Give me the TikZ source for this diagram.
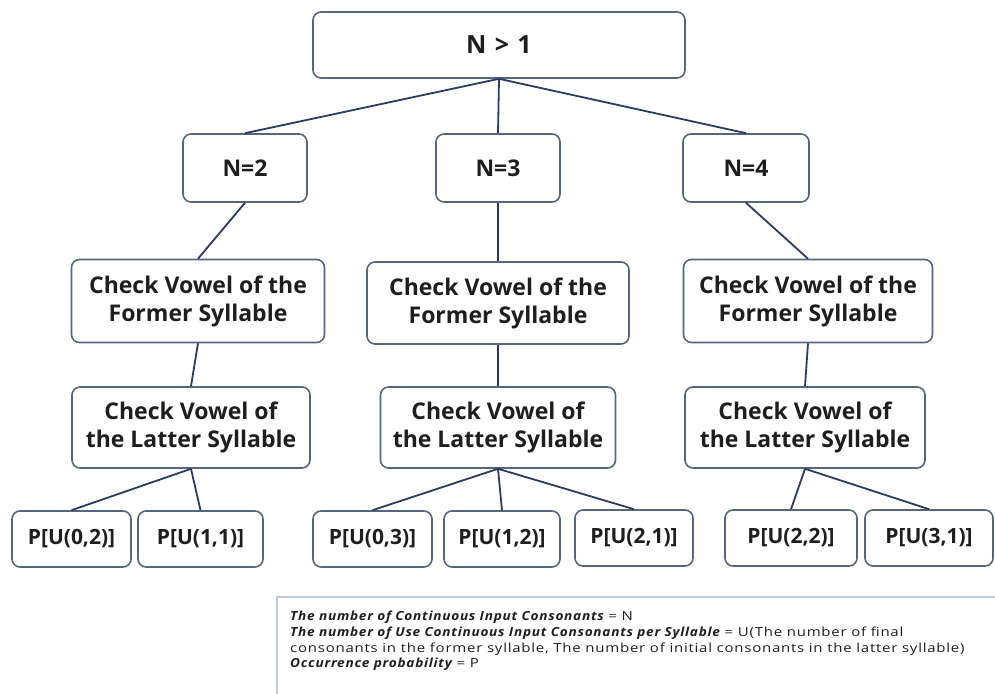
\documentclass[tikz,border=0pt]{standalone}
\usepackage{fontspec}
\setmainfont{Open Sans}
\newfontfamily\legfont[FakeStretch=1.2,LetterSpace=6]{Open Sans}
\newfontfamily\legitfont[FakeStretch=1.09,LetterSpace=6]{Open Sans}
\newcommand{\legit}[1]{{\legitfont\bfseries\itshape #1}}
\begin{document}
\begin{tikzpicture}[x=1pt,y=-1pt,
  box/.style={draw=boxc, line width=1.6pt, rounded corners=8pt, fill=white, align=center, inner sep=0pt, font=\fontsize{23}{28}\selectfont\bfseries, text=txt},
  conn/.style={draw=linec, line width=1.8pt},
  leaf/.style={box, minimum height=56pt, font=\fontsize{21}{26}\selectfont\bfseries},
  legtext/.style={anchor=west, inner sep=0pt, text=txt, font=\legfont\fontsize{12.5}{14}\selectfont}]
\definecolor{boxc}{HTML}{55667F}
\definecolor{linec}{HTML}{2C3B63}
\definecolor{txt}{HTML}{1E1E1E}
\definecolor{legb}{HTML}{B9CBDB}
\useasboundingbox (0,0) rectangle (995,693);
\fill[white] (0,0) rectangle (995,693);
% legend
\draw[draw=legb, line width=1.2pt, fill=white] (277,597) rectangle (1005,700);
\node[legtext] (lg1) at (290,617) {\legit{The number of Continuous Input Consonants} = N};
\node[legtext] (lg2) at (290,633) {\legit{The number of Use Continuous Input Consonants per Syllable} = U(The number of final};
\node[legtext] (lg3) at (290,649) {consonants in the former syllable, The number of initial consonants in the latter syllable)};
\node[legtext] (lg4) at (290,664) {\legit{Occurrence probability} = P};
% nodes
\node[box, minimum width=372pt, minimum height=66pt, font=\fontsize{25}{28}\selectfont\bfseries] (top) at (499,45) {N\,\,>\,\,1};
\node[box, minimum width=124pt, minimum height=68pt] (n2) at (245,168) {N=2};
\node[box, minimum width=124pt, minimum height=68pt] (n3) at (498,168) {N=3};
\node[box, minimum width=126pt, minimum height=68pt] (n4) at (746,168) {N=4};
\node[box, minimum width=253pt, minimum height=83pt] (f2) at (198,301) {Check Vowel of the\\Former Syllable};
\node[box, minimum width=262pt, minimum height=82pt] (f3) at (498,303) {Check Vowel of the\\Former Syllable};
\node[box, minimum width=249pt, minimum height=83pt] (f4) at (808,301) {Check Vowel of the\\Former Syllable};
\node[box, minimum width=238pt, minimum height=81pt] (l2) at (191,427.5) {Check Vowel of\\the Latter Syllable};
\node[box, minimum width=235pt, minimum height=81pt] (l3) at (498,427.5) {Check Vowel of\\the Latter Syllable};
\node[box, minimum width=240pt, minimum height=81pt] (l4) at (805,427.5) {Check Vowel of\\the Latter Syllable};
\node[leaf, minimum width=119pt] (a1) at (71.5,539) {P[U(0,2)]};
\node[leaf, minimum width=125pt] (a2) at (200.5,539) {P[U(1,1)]};
\node[leaf, minimum width=119pt] (b1) at (372.5,539) {P[U(0,3)]};
\node[leaf, minimum width=116pt] (b2) at (502,539) {P[U(1,2)]};
\node[leaf, minimum width=118pt] (b3) at (634,538) {P[U(2,1)]};
\node[leaf, minimum width=132pt] (c1) at (791,538) {P[U(2,2)]};
\node[leaf, minimum width=128pt] (c2) at (929,538) {P[U(3,1)]};
% connectors
\draw[conn] (top.south) -- (n2.north);
\draw[conn] (top.south) -- (n3.north);
\draw[conn] (top.south) -- (n4.north);
\draw[conn] (n2.south) -- (f2.north);
\draw[conn] (n3.south) -- (f3.north);
\draw[conn] (n4.south) -- (f4.north);
\draw[conn] (f2.south) -- (l2.north);
\draw[conn] (f3.south) -- (l3.north);
\draw[conn] (f4.south) -- (l4.north);
\draw[conn] (l2.south) -- (a1.north);
\draw[conn] (l2.south) -- (a2.north);
\draw[conn] (l3.south) -- (b1.north);
\draw[conn] (l3.south) -- (b2.north);
\draw[conn] (l3.south) -- (b3.north);
\draw[conn] (l4.south) -- (c1.north);
\draw[conn] (l4.south) -- (c2.north);
\end{tikzpicture}
\end{document}
